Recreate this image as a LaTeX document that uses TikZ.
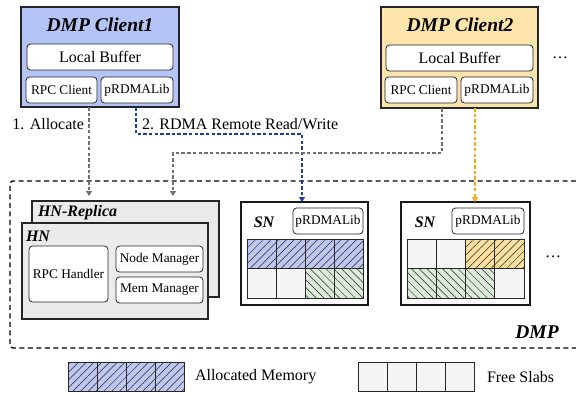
\documentclass[tikz,border=0pt]{standalone}
\usepackage{fontspec}
\setmainfont{Liberation Serif}
\usetikzlibrary{patterns.meta,arrows.meta,calc}
\definecolor{cblue}{RGB}{181,196,247}
\definecolor{corange}{RGB}{252,228,170}
\definecolor{hblue}{RGB}{190,198,242}
\definecolor{horange}{RGB}{250,224,158}
\definecolor{hgreen}{RGB}{221,235,219}
\definecolor{freec}{RGB}{245,245,245}
\definecolor{grayb}{RGB}{235,235,235}
\definecolor{agray}{RGB}{112,112,112}
\definecolor{ablue}{RGB}{28,58,168}
\definecolor{aorange}{RGB}{236,172,24}
\tikzset{
  every node/.style={inner sep=0pt,outer sep=0pt},
  fbig/.style={font=\fontsize{16}{18}\selectfont},
  fsmall/.style={font=\fontsize{13.3}{15}\selectfont},
  ftitle/.style={font=\fontsize{19.5}{22}\selectfont\bfseries\itshape},
  fsub/.style={font=\fontsize{16}{18}\selectfont\bfseries\itshape},
  box/.style={draw=black!85,anchor=north west,line width=1.1pt},
  snbox/.style={draw=black!90,anchor=north west,line width=1.8pt,fill=white},
  inner/.style={draw=black!85,anchor=north west,rounded corners=3.5pt,fill=white,line width=0.8pt},
  conn/.style={dash pattern=on 3.5pt off 2.2pt,line width=1.4pt,-{Triangle[length=5pt,width=6pt]}},
  cellf/.style={draw=black!85,line width=0.8pt,fill=freec},
  cellb/.style={draw=black!85,line width=0.8pt,fill=hblue,postaction={pattern={Lines[angle=45,distance=5.5pt,line width=0.5pt]},pattern color=black!85}},
  cello/.style={draw=black!85,line width=0.8pt,fill=horange,postaction={pattern={Lines[angle=45,distance=5.5pt,line width=0.5pt]},pattern color=black!85}},
  cellg/.style={draw=black!85,line width=0.8pt,fill=hgreen,postaction={pattern={Lines[angle=-45,distance=5.5pt,line width=0.5pt]},pattern color=black!85}},
}
\begin{document}
\begin{tikzpicture}[x=1pt,y=-1pt]
\useasboundingbox (0,0) rectangle (576,394);

% DMP region
\draw[dash pattern=on 5pt off 3.5pt,line width=1.4pt,rounded corners=3pt] (576,181) -- (10,181) -- (10,348) -- (576,348);
\node[ftitle] (dmp) at (537,332) {DMP};

% Client 1
\node[box,fill=cblue,minimum width=158pt,minimum height=100pt] (c1) at (21,7) {};
\node[ftitle] (c1t) at (100,25) {DMP Client1};
\node[inner,fbig,minimum width=146pt,minimum height=26pt] (b1) at (27,44) {Local Buffer};
\node[inner,fsmall,minimum width=71pt,minimum height=26pt] (r1) at (26,77) {RPC Client};
\node[inner,fsmall,minimum width=72pt,minimum height=26pt] (l1) at (101,77) {pRDMALib};

% Client 2
\node[box,fill=corange,minimum width=157pt,minimum height=101pt] (c2) at (381,7) {};
\node[ftitle] (c2t) at (460,25) {DMP Client2};
\node[inner,fbig,minimum width=147pt,minimum height=26pt] (b2) at (386,45) {Local Buffer};
\node[inner,fsmall,minimum width=72pt,minimum height=26pt] (r2) at (385,77) {RPC Client};
\node[inner,fsmall,minimum width=72pt,minimum height=26pt] (l2) at (461,77) {pRDMALib};
\node[fbig] (dots1) at (560,58) {\dots};

% HN replica and HN
\node[box,fill=grayb,minimum width=187pt,minimum height=96pt] (hnr) at (32,201) {};
\node[fsub,anchor=west] (hnrt) at (38,213) {HN-Replica};
\node[box,fill=grayb,minimum width=186pt,minimum height=96pt] (hn) at (22,223) {};
\node[fsub,anchor=west] (hnt) at (26,236) {HN};
\node[inner,fsmall,minimum width=79pt,minimum height=56pt] (rh) at (29,246) {RPC Handler};
\node[inner,fsmall,minimum width=87pt,minimum height=26pt] (nm) at (116,246) {Node Manager};
\node[inner,fsmall,minimum width=87pt,minimum height=26pt] (mm) at (116,277) {Mem Manager};

% SN 1
\node[snbox,minimum width=127pt,minimum height=103pt] (sn1) at (241,202) {};
\node[fsub] (sn1t) at (264,222) {SN};
\node[inner,fsmall,minimum width=70pt,minimum height=26pt] (sl1) at (293,208) {pRDMALib};
\foreach \i/\s in {0/cellb,1/cellb,2/cellb,3/cellb}
  \draw[\s] (247+29*\i,239) rectangle ++(29,29.5);
\foreach \i/\s in {0/cellf,1/cellf,2/cellg,3/cellg}
  \draw[\s] (247+29*\i,268.5) rectangle ++(29,29.5);

% SN 2
\node[snbox,minimum width=129pt,minimum height=103pt] (sn2) at (401,202) {};
\node[fsub] (sn2t) at (425,222) {SN};
\node[inner,fsmall,minimum width=72pt,minimum height=26pt] (sl2) at (452,208) {pRDMALib};
\foreach \i/\s in {0/cellf,1/cellf,2/cello,3/cello}
  \draw[\s] (407+29.25*\i,239) rectangle ++(29.25,29.5);
\foreach \i/\s in {0/cellg,1/cellg,2/cellg,3/cellf}
  \draw[\s] (407+29.25*\i,268.5) rectangle ++(29.25,29.5);
\node[fbig] (dots2) at (553,257) {\dots};

% connectors
\draw[conn,draw=agray,color=agray,shorten >=5pt] ([xshift=68pt]c1.south west) -- ([xshift=57pt]hnr.north west);
\node[fbig,anchor=east] (lab1) at (84,124) {1. Allocate};
\draw[conn,draw=ablue,color=ablue] ([xshift=115pt]c1.south west) -- ++(0,27) -| ([xshift=61pt]sn1.north west);
\node[fbig,anchor=west] (lab2) at (142,124) {2. RDMA Remote Read/Write};
\draw[conn,draw=agray,color=agray,shorten >=5pt] ([xshift=61pt]c2.south west) -- ++(0,45) -| ([xshift=141pt]hnr.north west);
\draw[conn,draw=aorange,color=aorange] ([xshift=94pt]c2.south west) -- ([xshift=74pt]sn2.north west);

% legend
\foreach \i in {0,1,2,3}
  \draw[cellb] (68+29*\i,362) rectangle ++(29,29);
\node[fbig,anchor=west] (leg1) at (195,377) {Allocated Memory};
\foreach \i in {0,1,2,3}
  \draw[cellf] (358+29*\i,362) rectangle ++(29,29);
\node[fbig,anchor=west] (leg2) at (487,377) {Free Slabs};
\end{tikzpicture}
\end{document}
